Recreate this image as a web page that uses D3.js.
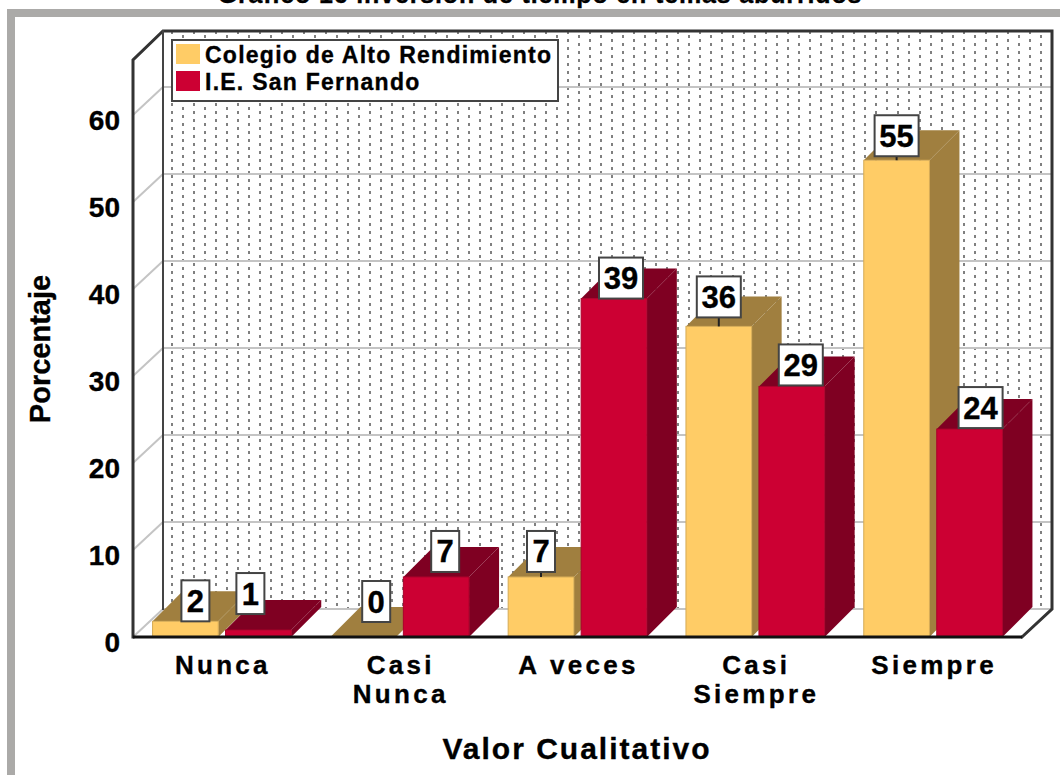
<!DOCTYPE html>
<html><head><meta charset="utf-8">
<script src="https://cdnjs.cloudflare.com/ajax/libs/d3/7.8.5/d3.min.js"></script>
<style>html,body{margin:0;padding:0;background:#fff;overflow:hidden}svg{display:block}text{font-family:"Liberation Sans",Arial,sans-serif;font-weight:bold;fill:#000;stroke:#000;stroke-width:.35px}</style>
</head><body><svg id="c" width="1060" height="775"></svg>
<script>
const categories = [["Nunca"],["Casi","Nunca"],["A veces"],["Casi","Siempre"],["Siempre"]];
const seriesNames = ["Colegio de Alto Rendimiento","I.E. San Fernando"];
const colegio = [1.8,0,6.9,35.7,54.8];
const sanFernando = [0.8,6.9,38.9,28.8,23.9];
const yTicks = [0,10,20,30,40,50,60];
const colors = ["#FFCC66","#CC0033"];
const sideColors = ["#A07F3F","#7F0022"];
const labelShiftX = [[10,13,0,0,0],[-8,9,7,9,11]];
const labelShiftY = [[0,-15,-5,-9,-4],[-16,-5,0,-1,-1]];

const svg = d3.select("#c");
const W=1060,H=775,D=30,gridD=28;
const plotLeft=133,plotRight=1022,y0=637;
const y = d3.scaleLinear().domain([0,60]).range([y0,115]);
const x = d3.scaleBand().domain(d3.range(5)).range([plotLeft,plotRight]).paddingInner(0.22).paddingOuter(0.11);
const xi = d3.scaleBand().domain([0,1]).range([0,x.bandwidth()]).paddingInner(0.1);
const wallBottom = y0-gridD, wallTop = 31;

// frame
svg.append("rect").attr("x",11).attr("y",13).attr("width",W).attr("height",H).attr("fill","#fff").attr("stroke","#ABAAA8").attr("stroke-width",8);
// title
svg.append("text").attr("x",540).attr("y",3).attr("text-anchor","middle").attr("font-size",25).attr("letter-spacing",0.85).text("Gráfico 16 inversión de tiempo en temas aburridos");

// dot pattern
const defs = svg.append("defs");
const p = defs.append("pattern").attr("id","dots").attr("patternUnits","userSpaceOnUse").attr("x",171).attr("y",wallTop).attr("width",22).attr("height",8);
p.append("rect").attr("x",0).attr("y",0).attr("width",2).attr("height",3).attr("fill","#808080");
p.append("rect").attr("x",11).attr("y",4).attr("width",2).attr("height",3).attr("fill","#808080");
svg.append("rect").attr("x",plotLeft+D).attr("y",wallTop).attr("width",plotRight-plotLeft).attr("height",wallBottom-wallTop).attr("fill","url(#dots)");

// grid
const grid = svg.append("g").attr("stroke","#C4C4C4").attr("stroke-width",2).attr("fill","none");
yTicks.forEach(t=>{
  grid.append("line").attr("x1",plotLeft).attr("y1",y(t)).attr("x2",plotLeft+D).attr("y2",y(t)-gridD);
  grid.append("line").attr("x1",plotLeft+D).attr("y1",y(t)-gridD).attr("x2",plotRight+D).attr("y2",y(t)-gridD);
});

// frame lines
const fr = svg.append("g").attr("fill","none").attr("stroke-linecap","square");
fr.append("path").attr("d",`M${plotLeft},${y0}V${y(60)-55}L${plotLeft+D},${wallTop}H${plotRight+D}V${wallBottom}L${plotRight},${y0}`).attr("stroke","#333").attr("stroke-width",3);
fr.append("path").attr("d",`M${plotLeft+D},${wallTop}V${wallBottom}`).attr("stroke","#444").attr("stroke-width",2);

// bars
const series=[colegio,sanFernando];
const boxes=[];
d3.range(5).forEach(i=>{
  [0,1].forEach(s=>{
    const v=series[s][i];
    const bx=x(i)+xi(s), bw=xi.bandwidth(), ty=y(v);
    const g=svg.append("g");
    g.append("path").attr("d",`M${bx},${ty}L${bx+D},${ty-D}H${bx+bw+D}L${bx+bw},${ty}Z`).attr("fill",sideColors[s]);
    g.append("path").attr("d",`M${bx+bw},${ty}L${bx+bw+D},${ty-D}V${y0-D}L${bx+bw},${y0}Z`).attr("fill",sideColors[s]);
    g.append("rect").attr("x",bx).attr("y",ty).attr("width",bw).attr("height",y0-ty).attr("fill",colors[s]).attr("stroke",d3.color(colors[s]).darker(0.5)).attr("stroke-width",1);
    boxes.push({v,s,i,cx:bx+bw/2,ty});
  });
});
// base line
svg.append("line").attr("x1",plotLeft).attr("x2",plotRight).attr("y1",y0).attr("y2",y0).attr("stroke","#111").attr("stroke-width",3);

// value labels
boxes.forEach(b=>{
  const label=String(Math.round(b.v+0.001));
  const w=label.length>1?44:28,h=41;
  const sx=labelShiftX[b.s][b.i];
  const cx=b.cx+sx, bottom=b.ty+labelShiftY[b.s][b.i];
  const g=svg.append("g");
  if(sx===0) g.append("line").attr("x1",b.cx).attr("x2",b.cx).attr("y1",bottom).attr("y2",b.ty).attr("stroke","#222").attr("stroke-width",2);
  g.append("rect").attr("x",cx-w/2).attr("y",bottom-h).attr("width",w).attr("height",h).attr("fill","#fff").attr("stroke","#444").attr("stroke-width",2);
  g.append("text").attr("x",cx).attr("y",bottom-h/2+11).attr("text-anchor","middle").attr("font-size",31).text(label);
});

// y axis labels
const axis=d3.axisLeft(y).tickValues(yTicks).tickSize(0).tickPadding(0);
const ag=svg.append("g").attr("transform","translate(120,6)").call(axis);
ag.select(".domain").remove();
ag.selectAll("text").attr("font-size",28).attr("font-family","Liberation Sans").attr("font-weight","bold").attr("fill","#000");

// category labels
categories.forEach((c,i)=>{
  const cx=x(i)+x.bandwidth()/2+1;
  c.forEach((t,j)=>{
    svg.append("text").attr("x",cx).attr("y",674+j*29).attr("text-anchor","middle").attr("font-size",26).attr("letter-spacing",3.3).text(t);
  });
});
// axis titles
svg.append("text").attr("x",577).attr("y",759).attr("text-anchor","middle").attr("font-size",30).attr("letter-spacing",2).text("Valor Cualitativo");
svg.append("text").attr("transform","translate(50,349) rotate(-90)").attr("text-anchor","middle").attr("font-size",29).text("Porcentaje");

// legend
const lg=svg.append("g");
lg.append("rect").attr("x",172).attr("y",40).attr("width",386).attr("height",61).attr("fill","#fff").attr("stroke","#444").attr("stroke-width",2);
seriesNames.forEach((n,i)=>{
  lg.append("rect").attr("x",176).attr("y",44+i*27).attr("width",24).attr("height",20).attr("fill",colors[i]);
  lg.append("text").attr("x",205).attr("y",63+i*27).attr("font-size",23).attr("letter-spacing",1.25).text(n);
});
</script></body></html>
